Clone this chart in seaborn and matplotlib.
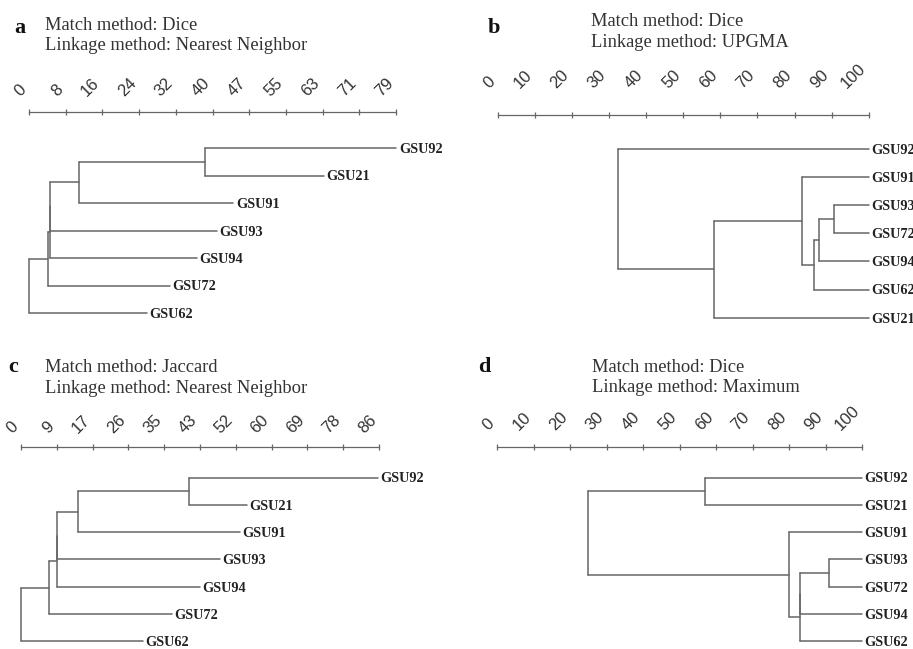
import numpy as np
import pandas as pd
import seaborn as sns
import matplotlib.pyplot as plt

# ---- DATA ----
# each tree: leaves top to bottom, tip distances, and merges (node, child1, child2, node distance)

# panel a: Dice / Nearest Neighbor
a_leaves = ["GSU92", "GSU21", "GSU91", "GSU93", "GSU94", "GSU72", "GSU62"]
a_tips = [79.1, 63.4, 44.0, 40.4, 36.1, 30.3, 25.3]
a_merges = [("A", "GSU92", "GSU21", 37.9), ("B", "A", "GSU91", 10.8),
            ("C", "B", "GSU93", 4.5), ("D", "C", "GSU94", 4.5),
            ("E", "D", "GSU72", 4.0), ("R", "E", "GSU62", 0.0)]
a_ticks = ["0", "8", "16", "24", "32", "40", "47", "55", "63", "71", "79"]
a_max = 79

# panel b: Dice / UPGMA
b_leaves = ["GSU92", "GSU91", "GSU93", "GSU72", "GSU94", "GSU62", "GSU21"]
b_tips = [100, 100, 100, 100, 100, 100, 100]
b_merges = [("P", "GSU93", "GSU72", 90.7), ("Q", "P", "GSU94", 86.7),
            ("R", "Q", "GSU62", 85.3), ("Y", "GSU91", "R", 81.9),
            ("X", "Y", "GSU21", 58.2), ("T", "GSU92", "X", 32.5)]
b_ticks = ["0", "10", "20", "30", "40", "50", "60", "70", "80", "90", "100"]
b_max = 100

# panel c: Jaccard / Nearest Neighbor
c_leaves = ["GSU92", "GSU21", "GSU91", "GSU93", "GSU94", "GSU72", "GSU62"]
c_tips = [86.1, 54.5, 52.8, 48.0, 43.2, 36.4, 29.4]
c_merges = [("A", "GSU92", "GSU21", 40.5), ("B", "A", "GSU91", 13.8),
            ("C", "B", "GSU93", 8.6), ("D", "C", "GSU94", 8.6),
            ("E", "D", "GSU72", 6.8), ("R", "E", "GSU62", 0.0)]
c_ticks = ["0", "9", "17", "26", "35", "43", "52", "60", "69", "78", "86"]
c_max = 86.4

# panel d: Dice / Maximum
d_leaves = ["GSU92", "GSU21", "GSU91", "GSU93", "GSU72", "GSU94", "GSU62"]
d_tips = [100, 100, 100, 100, 100, 100, 100]
d_merges = [("A", "GSU92", "GSU21", 57.0), ("P", "GSU93", "GSU72", 91.0),
            ("Q1", "P", "GSU94", 83.0), ("Q2", "Q1", "GSU62", 83.0),
            ("B", "GSU91", "Q2", 80.1), ("T", "A", "B", 25.0)]
d_ticks = b_ticks
d_max = 100

# ---- LAYOUT (pixels) ----
W, H = 913, 649
panels = [
    dict(letter="a", match="Dice", linkage="Nearest Neighbor", leaves=a_leaves, tips=a_tips,
         merges=a_merges, ticks=a_ticks, axis_max=a_max, box=(29, 396, 112, 325),
         first_leaf=148, spacing=27.5, pad=7, letter_xy=(14, 33), head_xy=(45, 29.5)),
    dict(letter="b", match="Dice", linkage="UPGMA", leaves=b_leaves, tips=b_tips,
         merges=b_merges, ticks=b_ticks, axis_max=b_max, box=(497.7, 868.7, 115, 330),
         first_leaf=149, spacing=28.1, pad=15, letter_xy=(488, 33), head_xy=(591, 26.5)),
    dict(letter="c", match="Jaccard", linkage="Nearest Neighbor", leaves=c_leaves, tips=c_tips,
         merges=c_merges, ticks=c_ticks, axis_max=c_max, box=(21, 379, 447, 647),
         first_leaf=477.5, spacing=27.3, pad=6, letter_xy=(8, 371.5), head_xy=(45, 372.5)),
    dict(letter="d", match="Dice", linkage="Maximum", leaves=d_leaves, tips=d_tips,
         merges=d_merges, ticks=d_ticks, axis_max=d_max, box=(497, 862, 446.7, 647),
         first_leaf=477.5, spacing=27.3, pad=8, letter_xy=(478, 371.5), head_xy=(592, 371.5)),
]


def build_segments(leaves, tips, merges):
    ypos = {name: i for i, name in enumerate(leaves)}
    xpos = dict(zip(leaves, tips))
    rows = []
    seg = 0
    for node, left, right, h in merges:
        ypos[node] = (ypos[left] + ypos[right]) / 2
        xpos[node] = h
        # vertical bar of the node
        rows += [(seg, h, ypos[left]), (seg, h, ypos[right])]
        seg += 1
        # horizontal branches to the children
        for child in (left, right):
            rows += [(seg, h, ypos[child]), (seg, xpos[child], ypos[child])]
            seg += 1
    return pd.DataFrame(rows, columns=["seg", "dist", "pos"]), xpos


sns.set_theme(style="white")
plt.rcParams["font.family"] = ["Liberation Serif", "DejaVu Serif"]

fig = plt.figure(figsize=(W / 100, H / 100), dpi=100)
line_color = "#666666"

for p in panels:
    left, right, top, bottom = p["box"]
    ax = fig.add_axes([left / W, 1 - bottom / H, (right - left) / W, (bottom - top) / H])
    ax.set_facecolor("none")

    seg_df, xpos = build_segments(p["leaves"], p["tips"], p["merges"])
    sns.lineplot(data=seg_df, x="dist", y="pos", units="seg", estimator=None, sort=False,
                 color=line_color, linewidth=1.1, ax=ax)
    for ln in ax.lines:
        ln.set_clip_on(False)

    # leaf labels
    for i, name in enumerate(p["leaves"]):
        ax.annotate(name, (xpos[name], i), xytext=(1.8, 0), textcoords="offset points",
                    ha="left", va="center_baseline", fontsize=10.3, fontweight="bold",
                    color="#222222", annotation_clip=False)

    n = len(p["leaves"])
    last_leaf = p["first_leaf"] + p["spacing"] * (n - 1)
    ax.set_ylim((n - 1) + (bottom - last_leaf) / p["spacing"],
                -(p["first_leaf"] - top) / p["spacing"])
    ax.set_xlim(0, p["axis_max"])
    ax.set(xlabel=None, ylabel=None)
    ax.set_yticks([])

    # scale bar on top
    sns.despine(ax=ax, left=True, bottom=True, right=True, top=False)
    ax.spines["top"].set_bounds(0, p["axis_max"])
    ax.spines["top"].set_color(line_color)
    ax.spines["top"].set_linewidth(0.9)
    ax.set_xticks(np.linspace(0, p["axis_max"], 11))
    ax.set_xticklabels(p["ticks"])
    ax.xaxis.set_ticks_position("top")
    ax.tick_params(axis="x", which="both", top=True, bottom=False, labeltop=True,
                   labelbottom=False, direction="inout", length=4, width=0.9,
                   color=line_color, pad=p["pad"], labelsize=12, labelcolor="#333333",
                   labelrotation=45)
    for lbl in ax.get_xticklabels():
        lbl.set_ha("right")
        lbl.set_va("bottom")
        lbl.set_fontfamily(["Liberation Sans", "DejaVu Sans"])

    # panel letter and header text
    lx, ly = p["letter_xy"]
    fig.text(lx / W, 1 - ly / H, p["letter"], fontsize=16, fontweight="bold",
             color="#111111", va="baseline", ha="left")
    hx, hy = p["head_xy"]
    fig.text(hx / W, 1 - hy / H, "Match method: " + p["match"], fontsize=13.3,
             color="#333333", va="baseline", ha="left")
    fig.text(hx / W, 1 - (hy + 20.5) / H, "Linkage method: " + p["linkage"], fontsize=13.3,
             color="#333333", va="baseline", ha="left")

fig.savefig("out.png", dpi=100)
